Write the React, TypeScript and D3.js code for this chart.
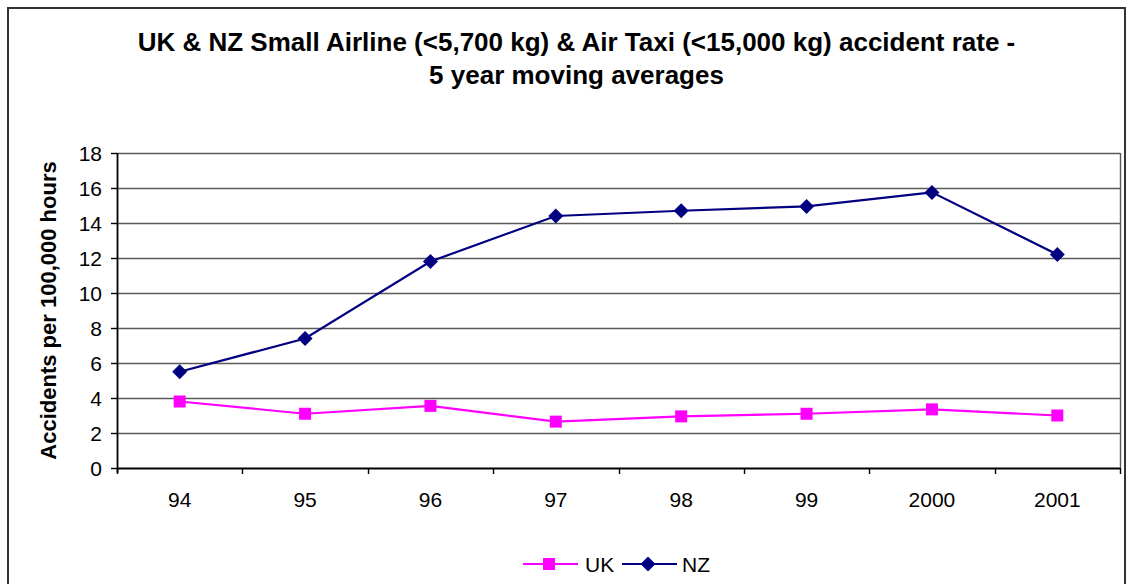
import React from "react";
import * as d3 from "d3";

const categories = ["94", "95", "96", "97", "98", "99", "2000", "2001"];
const ukValues = [3.8, 3.1, 3.55, 2.65, 2.95, 3.1, 3.35, 3.0];
const nzValues = [5.5, 7.4, 11.8, 14.4, 14.7, 14.95, 15.75, 12.2];
const yTicks = [0, 2, 4, 6, 8, 10, 12, 14, 16, 18];
const titleLines = [
  "UK & NZ Small Airline (<5,700 kg) & Air Taxi (<15,000 kg) accident rate -",
  "5 year moving averages",
];
const yLabel = "Accidents per 100,000 hours";

const W = 1130;
const H = 584;
const plot = { left: 117, right: 1120, top: 153, bottom: 468 };
const font = "Arial, 'Liberation Sans', sans-serif";

export default function App() {
  const x = d3
    .scaleBand<string>()
    .domain(categories)
    .range([plot.left, plot.right]);
  const y = d3.scaleLinear().domain([0, 18]).range([plot.bottom, plot.top]);
  const cx = (c: string) => (x(c) as number) + x.bandwidth() / 2;

  const line = d3
    .line<number>()
    .x((_, i) => cx(categories[i]))
    .y((d) => y(d));

  const boundaries = categories.map((c) => x(c) as number).concat([plot.right]);

  return (
    <div style={{ position: "absolute", left: 0, top: 0 }}>
      <svg width={W} height={H} style={{ display: "block" }}>
        <rect x={0} y={0} width={W} height={H} fill="#fff" />
        <rect
          x={8}
          y={8}
          width={1117}
          height={600}
          fill="none"
          stroke="#333"
          strokeWidth={2}
        />
        {titleLines.map((t, i) => (
          <text
            key={i}
            x={576.5}
            y={51 + i * 33}
            textAnchor="middle"
            fontFamily={font}
            fontWeight="bold"
            fontSize={26}
            fill="#000"
          >
            {t}
          </text>
        ))}
        {/* gridlines */}
        {yTicks.map((t) => (
          <line
            key={t}
            x1={plot.left}
            x2={plot.right}
            y1={Math.round(y(t)) + 0.5}
            y2={Math.round(y(t)) + 0.5}
            stroke={t === 0 ? "#000" : "#5a5a5a"}
            strokeWidth={t === 0 ? 1.8 : 1.4}
          />
        ))}
        {/* right border of plot */}
        <line
          x1={plot.right + 0.5}
          x2={plot.right + 0.5}
          y1={plot.top}
          y2={plot.bottom}
          stroke="#5a5a5a"
          strokeWidth={1.4}
        />
        {/* y axis */}
        <line
          x1={plot.left + 0.5}
          x2={plot.left + 0.5}
          y1={plot.top}
          y2={plot.bottom + 5}
          stroke="#000"
          strokeWidth={1.8}
        />
        {yTicks.map((t) => (
          <g key={"yt" + t}>
            <line
              x1={plot.left - 6}
              x2={plot.left}
              y1={Math.round(y(t)) + 0.5}
              y2={Math.round(y(t)) + 0.5}
              stroke="#000"
              strokeWidth={1.4}
            />
            <text
              x={plot.left - 15}
              y={y(t) + 7.5}
              textAnchor="end"
              fontFamily={font}
              fontSize={21}
              fill="#000"
            >
              {t}
            </text>
          </g>
        ))}
        {boundaries.map((b, i) => (
          <line
            key={"xt" + i}
            x1={Math.round(b) + 0.5}
            x2={Math.round(b) + 0.5}
            y1={plot.bottom}
            y2={plot.bottom + 6}
            stroke="#000"
            strokeWidth={1.4}
          />
        ))}
        {categories.map((c) => (
          <text
            key={"xl" + c}
            x={cx(c)}
            y={507}
            textAnchor="middle"
            fontFamily={font}
            fontSize={21}
            fill="#000"
          >
            {c}
          </text>
        ))}
        <text
          transform={`translate(56, ${(plot.top + plot.bottom) / 2}) rotate(-90)`}
          textAnchor="middle"
          fontFamily={font}
          fontWeight="bold"
          fontSize={22}
          fill="#000"
        >
          {yLabel}
        </text>
        {/* series */}
        <path d={line(ukValues) || ""} fill="none" stroke="#FF00FF" strokeWidth={2.2} />
        <path d={line(nzValues) || ""} fill="none" stroke="#000080" strokeWidth={2.2} />
        {ukValues.map((v, i) => (
          <rect
            key={"uk" + i}
            x={cx(categories[i]) - 6}
            y={y(v) - 6}
            width={12}
            height={12}
            fill="#FF00FF"
          />
        ))}
        {nzValues.map((v, i) => (
          <path
            key={"nz" + i}
            d={`M${cx(categories[i])},${y(v) - 7.5}l7.5,7.5l-7.5,7.5l-7.5,-7.5z`}
            fill="#000080"
          />
        ))}
        {/* legend */}
        <g>
          <line x1={523} x2={578} y1={564} y2={564} stroke="#FF00FF" strokeWidth={2.2} />
          <rect x={543} y={558} width={12} height={12} fill="#FF00FF" />
          <text x={585} y={572} fontFamily={font} fontSize={21} fill="#000">
            UK
          </text>
          <line x1={622} x2={677} y1={564} y2={564} stroke="#000080" strokeWidth={2.2} />
          <path d={`M648,556.5l7.5,7.5l-7.5,7.5l-7.5,-7.5z`} fill="#000080" />
          <text x={682} y={572} fontFamily={font} fontSize={21} fill="#000">
            NZ
          </text>
        </g>
      </svg>
    </div>
  );
}
